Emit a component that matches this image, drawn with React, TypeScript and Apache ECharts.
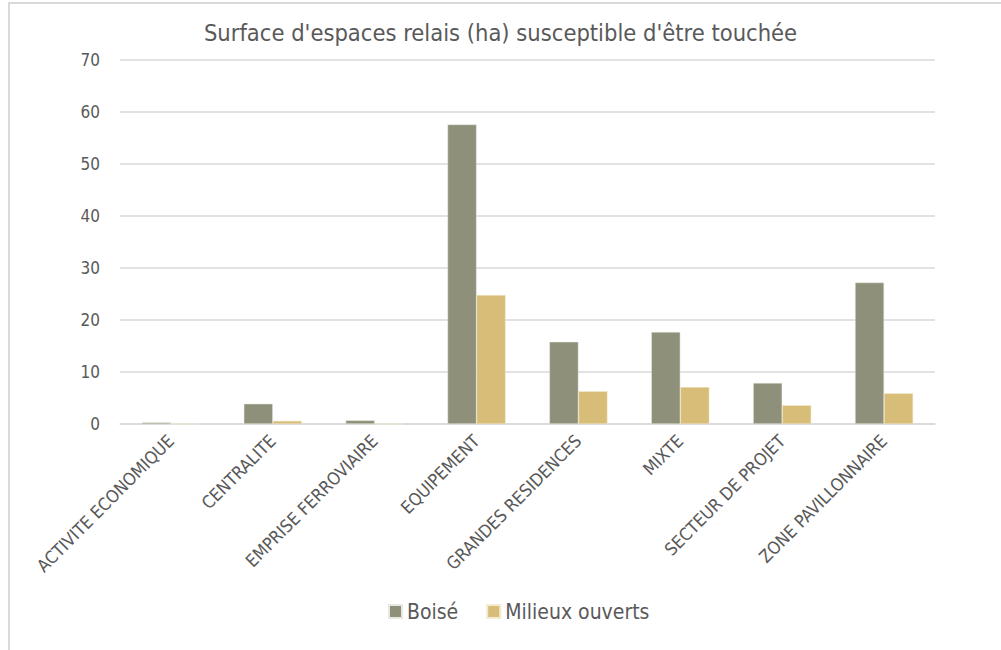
import React, { useEffect, useRef } from "react";
import * as echarts from "echarts";

const categories = [
  "ACTIVITE ECONOMIQUE",
  "CENTRALITE",
  "EMPRISE FERROVIAIRE",
  "EQUIPEMENT",
  "GRANDES RESIDENCES",
  "MIXTE",
  "SECTEUR DE PROJET",
  "ZONE PAVILLONNAIRE",
];
const boise = [0.3, 3.9, 0.7, 57.6, 15.8, 17.7, 7.9, 27.2];
const milieuxOuverts = [0, 0.6, 0, 24.8, 6.3, 7.1, 3.6, 5.9];
const titleText = "Surface d'espaces relais (ha) susceptible d'être touchée";

const FONT = "'DejaVu Sans Condensed', 'Liberation Sans Narrow', sans-serif";

export default function App() {
  const ref = useRef<HTMLDivElement>(null);
  useEffect(() => {
    if (!ref.current) return;
    const chart = echarts.init(ref.current, undefined, { renderer: "svg" });
    chart.setOption({
      animation: false,
      backgroundColor: "#ffffff",
      textStyle: { fontFamily: FONT },
      title: {
        text: titleText,
        left: "center",
        top: 16,
        textStyle: { fontFamily: FONT, fontSize: 23.5, fontWeight: "normal", color: "#595959" },
      },
      legend: {
        bottom: 23,
        left: 383,
        itemWidth: 13,
        itemHeight: 13,
        itemGap: 28,
        icon: "rect",
        textStyle: { fontFamily: FONT, fontSize: 21, color: "#595959" },
        data: ["Boisé", "Milieux ouverts"],
      },
      graphic: [
        {
          type: "polyline",
          shape: { points: [[9, 650], [9, 3], [1001, 3]] },
          style: { stroke: "#d9d9d9", lineWidth: 2, fill: "none" },
          silent: true,
        },
      ],
      grid: { left: 120, right: 66, top: 60, bottom: 226, containLabel: false },
      xAxis: {
        type: "category",
        data: categories,
        axisLine: { lineStyle: { color: "#d9d9d9", width: 1.5 } },
        axisTick: { show: false },
        axisLabel: {
          rotate: 45,
          interval: 0,
          margin: 14,
          fontFamily: FONT,
          fontSize: 17.5,
          color: "#595959",
        },
      },
      yAxis: {
        type: "value",
        min: 0,
        max: 70,
        interval: 10,
        axisLine: { show: false },
        axisTick: { show: false },
        axisLabel: { fontFamily: FONT, fontSize: 17, color: "#595959", margin: 20 },
        splitLine: { lineStyle: { color: "#d9d9d9", width: 1.5 } },
      },
      series: [
        {
          name: "Boisé",
          type: "bar",
          data: boise,
          barGap: "0%",
          barCategoryGap: "43%",
          itemStyle: { color: "#8f907a", borderColor: "#e8e8e0", borderWidth: 0.5 },
        },
        {
          name: "Milieux ouverts",
          type: "bar",
          data: milieuxOuverts,
          barGap: "0%",
          barCategoryGap: "43%",
          itemStyle: { color: "#d8bd78", borderColor: "#f3ead0", borderWidth: 0.5 },
        },
      ],
    });
    return () => chart.dispose();
  }, []);
  return (
    <div
      ref={ref}
      style={{ position: "fixed", left: 0, top: 0, width: 1001, height: 650 }}
    />
  );
}
